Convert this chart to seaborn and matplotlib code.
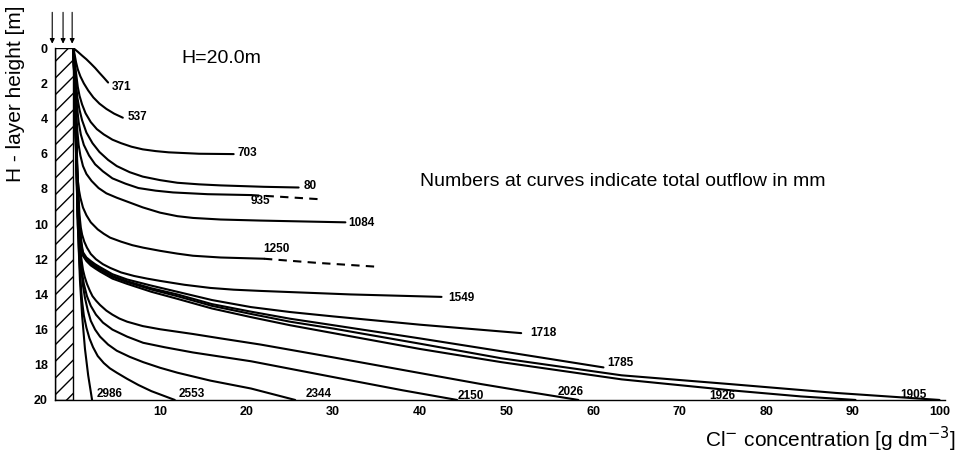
import numpy as np
import pandas as pd
import seaborn as sns
import matplotlib
matplotlib.use("Agg")
import matplotlib.pyplot as plt
from matplotlib.patches import Rectangle

# Chloride concentration profiles: (concentration g/dm3, layer height m) per total outflow
curve_371 = [(0, 0), (0.5, 0.2), (1.0, 0.42), (1.5, 0.63), (2.0, 0.87), (2.5, 1.12), (3.0, 1.4),
             (3.5, 1.67), (4.0, 1.95)]
curve_537 = [(0, 0), (0.15, 0.4), (0.3, 0.8), (0.5, 1.2), (0.8, 1.6), (1.2, 2.0), (1.7, 2.4),
             (2.3, 2.8), (3.0, 3.15), (3.8, 3.45), (4.7, 3.72), (5.7, 3.95)]
curve_703 = [(0, 0), (0.1, 0.5), (0.2, 1.0), (0.35, 1.6), (0.5, 2.2), (0.7, 2.7), (1.0, 3.2),
             (1.4, 3.7), (2.0, 4.2), (2.7, 4.6), (3.5, 4.9), (4.5, 5.2), (5.5, 5.4), (6.7, 5.6),
             (8.0, 5.75), (9.5, 5.85), (11.0, 5.92), (14.5, 6.0), (18.5, 6.02)]
curve_80 = [(0, 0), (0.15, 1.0), (0.3, 2.0), (0.45, 2.8), (0.7, 3.5), (1.0, 4.1), (1.5, 4.8),
            (2.2, 5.4), (3.0, 5.9), (4.0, 6.35), (5.0, 6.7), (6.5, 7.05), (8.0, 7.3), (10, 7.5),
            (12, 7.65), (14.5, 7.74), (17, 7.8), (22, 7.88), (26, 7.92)]
curve_935 = [(0, 0), (0.15, 1.2), (0.3, 2.5), (0.45, 3.5), (0.6, 4.2), (0.85, 4.9), (1.2, 5.5),
             (1.8, 6.1), (2.5, 6.6), (3.4, 7.0), (4.5, 7.4), (6.0, 7.7), (7.5, 7.95), (9.5, 8.1),
             (11.5, 8.2), (15.5, 8.3), (20.5, 8.35)]
curve_935_ext = [(20.5, 8.35), (24, 8.45), (28.9, 8.6)]
curve_1084 = [(0, 0), (0.15, 1.5), (0.3, 3.5), (0.45, 4.7), (0.6, 5.5), (0.8, 6.1), (1.1, 6.7),
              (1.5, 7.15), (2.1, 7.55), (2.9, 7.95), (3.8, 8.25), (5.0, 8.5), (6.2, 8.72),
              (8.0, 9.05), (10, 9.35), (12, 9.55), (13.8, 9.65), (17, 9.74), (21.6, 9.8),
              (31.4, 9.9)]
curve_1250 = [(0, 0), (0.2, 2.5), (0.3, 5.0), (0.4, 6.5), (0.5, 7.5), (0.65, 8.1), (0.8, 8.5),
              (1.1, 9.06), (1.5, 9.5), (2.0, 9.9), (2.8, 10.3), (3.5, 10.55), (4.23, 10.77),
              (5.5, 11.0), (6.8, 11.2), (8.05, 11.34), (10, 11.52), (12, 11.68), (13.8, 11.8),
              (17, 11.9), (22.0, 11.97)]
curve_1250_ext = [(22.0, 11.97), (28, 12.2), (35.2, 12.43)]
curve_1549 = [(0, 0), (0.2, 3.0), (0.4, 6.0), (0.55, 8.0), (0.7, 9.5), (0.85, 10.2), (1.0, 10.6),
              (1.25, 11.0), (1.56, 11.34), (2.0, 11.7), (2.6, 12.0), (3.4, 12.28), (4.23, 12.49),
              (5.5, 12.75), (7, 12.95), (8.5, 13.1), (10, 13.23), (12.8, 13.45), (15.8, 13.63),
              (18.5, 13.73), (21.6, 13.8), (32, 14.0), (42.5, 14.14)]
curve_1718 = [(0, 0), (0.25, 4.0), (0.5, 8.0), (0.65, 9.5), (0.8, 10.5), (0.95, 11.15), (1.1, 11.6),
              (1.5, 11.9), (2.0, 12.1), (2.5, 12.28), (3.07, 12.45), (4.5, 12.85), (6.2, 13.15),
              (9, 13.5), (12, 13.85), (16, 14.32), (20.5, 14.72), (25, 15.0), (30, 15.25),
              (40, 15.72), (51.7, 16.2)]
curve_1785 = [(0, 0), (0.25, 4.2), (0.5, 8.5), (0.65, 9.8), (0.8, 10.7), (0.95, 11.3), (1.1, 11.7),
              (1.5, 12.0), (2.0, 12.2), (2.5, 12.38), (3.07, 12.55), (4.5, 12.95), (6.2, 13.25),
              (9, 13.65), (12, 14.0), (16, 14.55), (20.5, 14.98), (25, 15.38), (30, 15.75),
              (40, 16.5), (49.4, 17.23), (61.2, 18.15)]
curve_1905 = [(0, 0), (0.25, 4.3), (0.5, 8.7), (0.65, 9.9), (0.8, 10.8), (0.95, 11.4), (1.1, 11.75),
              (1.5, 12.05), (2.0, 12.3), (2.5, 12.45), (3.07, 12.6), (4.5, 13.0), (6.2, 13.3),
              (9, 13.72), (12, 14.1), (16, 14.65), (20.5, 15.11), (25, 15.55), (30, 15.94),
              (40, 16.8), (49.4, 17.63), (63.3, 18.6), (76.1, 19.11), (88, 19.6), (100, 20.0)]
curve_1926 = [(0, 0), (0.25, 4.5), (0.5, 9.0), (0.65, 10.1), (0.8, 10.9), (0.95, 11.45), (1.1, 11.8),
              (1.5, 12.1), (2.0, 12.35), (2.5, 12.52), (3.07, 12.7), (4.5, 13.1), (6.2, 13.4),
              (9, 13.85), (12, 14.25), (16, 14.8), (20.5, 15.29), (25, 15.75), (30, 16.2),
              (40, 17.1), (49.4, 17.85), (63.3, 18.83), (76.1, 19.46), (84, 19.8), (90.3, 20.0)]
curve_2026 = [(0, 0), (0.25, 4.5), (0.5, 9.0), (0.65, 10.5), (0.8, 11.5), (0.95, 12.1), (1.1, 12.6),
              (1.3, 13.0), (1.56, 13.4), (1.9, 13.8), (2.2, 14.1), (2.6, 14.35), (3.07, 14.6),
              (3.8, 14.92), (4.5, 15.15), (5.3, 15.37), (6.2, 15.55), (8, 15.8), (10, 15.98),
              (13.8, 16.25), (17, 16.5), (21.6, 16.85), (30, 17.58), (40, 18.47), (47.1, 19.1),
              (52, 19.5), (58.3, 20.0)]
curve_2150 = [(0, 0), (0.25, 4.7), (0.5, 9.5), (0.7, 11.2), (0.9, 12.5), (1.2, 13.4), (1.56, 14.1),
              (2.0, 14.65), (2.6, 15.15), (3.4, 15.6), (4.5, 16.0), (6.2, 16.4), (8.05, 16.75),
              (10.5, 17.0), (13.8, 17.3), (20.5, 17.8), (30, 18.7), (38, 19.45), (44.3, 20.0)]
curve_2344 = [(0, 0), (0.25, 4.7), (0.5, 9.5), (0.7, 11.3), (0.9, 12.5), (1.1, 13.5), (1.33, 14.2),
              (1.65, 14.9), (2.0, 15.5), (2.5, 16.0), (3.07, 16.4), (4.0, 16.85), (5, 17.2),
              (6.5, 17.55), (8.05, 17.85), (10, 18.17), (12, 18.45), (15.8, 18.9), (20.5, 19.35),
              (25.6, 20.0)]
curve_2553 = [(0, 0), (0.25, 5.0), (0.5, 10.0), (0.65, 11.7), (0.8, 13.0), (0.9, 13.8), (1.0, 14.4),
              (1.2, 15.2), (1.5, 15.9), (1.85, 16.5), (2.26, 17.0), (2.8, 17.5), (3.5, 17.9),
              (4.2, 18.2), (5, 18.45), (6.2, 18.8), (7.5, 19.15), (9, 19.5), (11.7, 20.0)]
curve_2986 = [(0, 0), (0.25, 5.0), (0.5, 10.0), (0.75, 13.2), (1.0, 15.2), (1.33, 17.1), (1.7, 18.6),
              (2.15, 20.0)]

solid_curves = [curve_371, curve_537, curve_703, curve_80, curve_935, curve_1084, curve_1250,
                curve_1549, curve_1718, curve_1785, curve_1905, curve_1926, curve_2026,
                curve_2150, curve_2344, curve_2553, curve_2986]
dashed_curves = [curve_935_ext, curve_1250_ext]

# Outflow labels (text, concentration, height)
label_text = ["371", "537", "703", "80", "935", "1084", "1250", "1549", "1718", "1785",
              "2986", "2553", "2344", "2150", "2026", "1926", "1905"]
label_conc = [4.4, 6.3, 18.9, 26.6, 20.5, 31.7, 21.9, 43.3, 52.7, 61.6,
              2.7, 12.1, 26.8, 44.4, 55.9, 73.4, 95.5]
label_height = [2.2, 3.91, 5.97, 7.85, 8.66, 9.91, 11.4, 14.2, 16.2, 17.9,
                19.65, 19.65, 19.65, 19.75, 19.55, 19.8, 19.7]

x_ticks = [10, 20, 30, 40, 50, 60, 70, 80, 90, 100]
y_ticks = [0, 2, 4, 6, 8, 10, 12, 14, 16, 18, 20]

sns.set_theme(style="white")
plt.rcParams["font.family"] = ["Liberation Sans", "DejaVu Sans"]
plt.rcParams["text.color"] = "black"

fig = plt.figure(figsize=(9.62, 4.55), dpi=100)
ax = fig.add_axes([0.057, 0.121, 0.925, 0.773])

def draw(points, ls):
    df = pd.DataFrame(points, columns=["conc", "height"])
    sns.lineplot(data=df, x="conc", y="height", sort=False, estimator=None,
                 color="black", lw=1.5, linestyle=ls, ax=ax)

for c in solid_curves:
    draw(c, "-")
for c in dashed_curves:
    draw(c, (0, (4, 3)))

# hatched column at the left
ax.add_patch(Rectangle((-2.15, 0), 2.15, 20, fill=False, hatch="//", edgecolor="black", lw=1.0))

for t, cx, cy in zip(label_text, label_conc, label_height):
    ax.text(cx, cy, t, fontsize=8.5, fontweight="bold", ha="left", va="center", color="black")

# infiltration arrows above the column
for ax_x in [-2.45, -1.2, -0.15]:
    ax.annotate("", xy=(ax_x, -0.1), xytext=(ax_x, -2.2), annotation_clip=False,
                arrowprops=dict(arrowstyle="-|>", color="black", lw=0.8, mutation_scale=7))

ax.text(12.5, 0.6, "H=20.0m", fontsize=14, ha="left", va="center", color="black")
ax.text(40.0, 7.6, "Numbers at curves indicate total outflow in mm", fontsize=14,
        ha="left", va="center", color="black")

ax.set_xlim(-2.15, 100.6)
ax.set_ylim(20, 0)
ax.set_xticks(x_ticks)
ax.set_yticks(y_ticks)
ax.set_xticklabels([str(v) for v in x_ticks], fontweight="bold", fontsize=9)
ax.set_yticklabels([str(v) for v in y_ticks], fontweight="bold", fontsize=9)
ax.tick_params(axis="x", direction="in", length=5, width=0.8, pad=4, colors="black")
ax.tick_params(axis="y", direction="out", length=4, width=0.8, pad=1, colors="black")
for side in ["top", "right"]:
    ax.spines[side].set_visible(False)
for side in ["left", "bottom"]:
    ax.spines[side].set_color("black")
    ax.spines[side].set_linewidth(1.0)

ax.set_xlabel("")
ax.set_ylabel("")
fig.text(0.016, 0.795, "H - layer height [m]", rotation=90, fontsize=15, ha="center",
         va="center", color="black")
fig.text(0.993, 0.035, "Cl$^{-}$ concentration [g dm$^{-3}$]", fontsize=15, ha="right",
         va="center", color="black")

fig.savefig("out.png", dpi=100)
